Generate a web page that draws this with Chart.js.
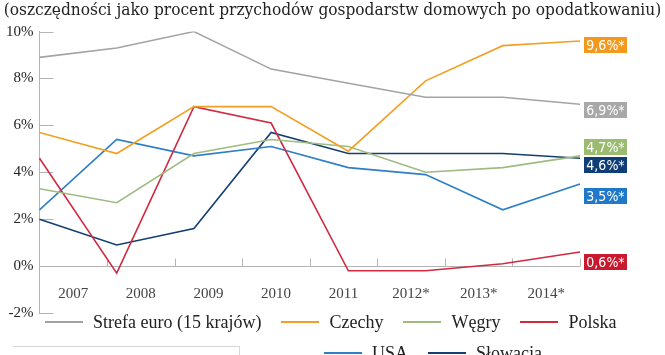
<!DOCTYPE html>
<html>
<head>
<meta charset="utf-8">
<script src="https://cdn.jsdelivr.net/npm/chart.js@4.4.1/dist/chart.umd.min.js"></script>
<style>
  html, body { margin: 0; padding: 0; background: #fff; }
  #wrap { position: relative; width: 665px; height: 355px; overflow: hidden; }
  canvas { position: absolute; left: 0; top: 0; }
  .leg { position: absolute; display: flex; align-items: center; font-family: "Liberation Serif", serif; font-size: 18px; color: #222; white-space: nowrap; }
  .leg .it { display: flex; align-items: center; margin-right: 20px; }
  .leg .sw { width: 38px; height: 2px; margin-right: 10px; }
  #box { position: absolute; left: 13px; top: 346px; width: 226px; height: 30px; border-top: 1px solid #d8d8d8; border-right: 1px solid #d8d8d8; }
</style>
</head>
<body>
<div id="wrap">
  <canvas id="c" width="665" height="355"></canvas>
  <div id="box"></div>
  <div class="leg" id="leg1" style="left:45px; top:311px; height:22px;"></div>
  <div class="leg" id="leg2" style="left:324px; top:342px; height:22px;"></div>
</div>
<script>
// ---- data ----
const titleText = '(oszczędności jako procent przychodów gospodarstw domowych po opodatkowaniu)';
const years = ['2007', '2008', '2009', '2010', '2011', '2012*', '2013*', '2014*'];
const seriesNames = ['Strefa euro (15 krajów)', 'Czechy', 'Węgry', 'Polska', 'USA', 'Słowacja'];
const strefaEuro = [8.9, 9.3, 10.0, 8.4, 7.8, 7.2, 7.2, 6.9];
const czechy     = [5.7, 4.8, 6.8, 6.8, 4.9, 7.9, 9.4, 9.6];
const wegry      = [3.3, 2.7, 4.8, 5.4, 5.1, 4.0, 4.2, 4.7];
const polska     = [4.6, -0.3, 6.8, 6.1, -0.2, -0.2, 0.1, 0.6];
const usa        = [2.4, 5.4, 4.7, 5.1, 4.2, 3.9, 2.4, 3.5];
const slowacja   = [2.0, 0.9, 1.6, 5.7, 4.8, 4.8, 4.8, 4.6];
const yTicks     = [-2, 0, 2, 4, 6, 8, 10];

// ---- styles ----
const lineColors = ['#a3a3a3', '#f2a024', '#9fbb82', '#d02a40', '#2e7fc6', '#143f70'];
const tagColors  = ['#a8a8a8', '#f39a1e', '#9bbb70', '#c8192e', '#1f78c8', '#0e3e75'];
const tagShift   = [6, 4, -9, 10, 12, 7]; // px nudges to avoid overlap
const allSeries  = [strefaEuro, czechy, wegry, polska, usa, slowacja];

// fit title font size to the page width
const titleFamily = '"DejaVu Serif Condensed", "Liberation Serif", serif';
const mctx = document.createElement('canvas').getContext('2d');
mctx.font = '100px ' + titleFamily;
const titleSize = Math.min(22, 100 * 658 / mctx.measureText(titleText).width);

const datasets = allSeries.map((d, i) => ({
  label: seriesNames[i],
  data: d,
  borderColor: lineColors[i],
  backgroundColor: lineColors[i],
  borderWidth: 1.6,
  pointRadius: 0,
  tension: 0,
  xAxisID: 'x',
  yAxisID: 'y'
}));

const decor = {
  id: 'decor',
  beforeDatasetsDraw(chart) {
    const ctx = chart.ctx, ya = chart.scales.y, xl = chart.scales.xl, area = chart.chartArea;
    ctx.save();
    ctx.strokeStyle = '#b4b4b4';
    ctx.lineWidth = 1;
    yTicks.forEach(v => {
      const y = Math.round(ya.getPixelForValue(v)) + 0.5;
      ctx.beginPath();
      ctx.moveTo(area.left, y);
      ctx.lineTo(area.left + 14, y);
      ctx.stroke();
    });
    const y0 = Math.round(ya.getPixelForValue(0)) + 0.5;
    ctx.beginPath();
    ctx.moveTo(area.left, y0);
    ctx.lineTo(area.right, y0);
    ctx.stroke();
    const step = xl.getPixelForValue(1) - xl.getPixelForValue(0);
    for (let i = 0; i < years.length; i++) {
      const xb = Math.round(xl.getPixelForValue(i) + step / 2) + 0.5;
      ctx.beginPath();
      ctx.moveTo(xb, y0);
      ctx.lineTo(xb, y0 - 8);
      ctx.stroke();
    }
    ctx.restore();
  },
  afterDatasetsDraw(chart) {
    const ctx = chart.ctx, ya = chart.scales.y, area = chart.chartArea;
    ctx.save();
    allSeries.forEach((d, i) => {
      const v = d[d.length - 1];
      const yc = ya.getPixelForValue(v) + tagShift[i];
      const x = area.right + 4, w = 43, h = 16;
      ctx.fillStyle = tagColors[i];
      ctx.fillRect(x, Math.round(yc - h / 2), w, h);
      ctx.fillStyle = '#fff';
      ctx.font = '14px "Liberation Sans Narrow", "DejaVu Sans Condensed", sans-serif';
      ctx.textAlign = 'center';
      ctx.textBaseline = 'middle';
      ctx.fillText(v.toFixed(1).replace('.', ',') + '%*', x + w / 2, Math.round(yc) + 1);
    });
    ctx.restore();
  }
};

new Chart(document.getElementById('c'), {
  type: 'line',
  data: { labels: years, datasets },
  options: {
    responsive: false,
    animation: false,
    layout: { padding: { left: 0, right: 0, top: 0, bottom: 42 } },
    plugins: {
      legend: { display: false },
      tooltip: { enabled: false },
      title: {
        display: true,
        text: titleText,
        color: '#222',
        font: { family: titleFamily, size: titleSize, weight: 'normal' },
        padding: { top: 0, bottom: 11 }
      }
    },
    scales: {
      x: { type: 'category', display: false, offset: false },
      xl: {
        type: 'category',
        labels: years,
        position: { y: 0 },
        offset: true,
        grid: { display: false, drawTicks: false, offset: true },
        border: { display: false },
        ticks: {
          color: '#444',
          padding: 19,
          maxRotation: 0,
          autoSkip: false,
          font: { family: '"Liberation Serif", serif', size: 15 }
        }
      },
      y: {
        min: -2,
        max: 10,
        afterBuildTicks(scale) { scale.ticks = yTicks.map(v => ({ value: v })); },
        grid: { display: false, drawTicks: false },
        border: { display: true, color: '#b4b4b4', width: 1 },
        ticks: {
          color: '#222',
          padding: 6,
          font: { family: '"Liberation Serif", serif', size: 15 },
          callback: v => v + '%'
        }
      },
      yr: {
        type: 'linear',
        position: 'right',
        min: -2,
        max: 10,
        grid: { display: false, drawTicks: false },
        border: { display: false },
        ticks: { display: false },
        afterFit(scale) { scale.width = 85; }
      }
    }
  },
  plugins: [decor]
});

function addItem(parent, i) {
  const it = document.createElement('div'); it.className = 'it';
  const sw = document.createElement('div'); sw.className = 'sw'; sw.style.background = lineColors[i];
  const tx = document.createElement('span'); tx.textContent = seriesNames[i];
  it.appendChild(sw); it.appendChild(tx); parent.appendChild(it);
}
[0, 1, 2, 3].forEach(i => addItem(document.getElementById('leg1'), i));
[4, 5].forEach(i => addItem(document.getElementById('leg2'), i));
</script>
</body>
</html>
